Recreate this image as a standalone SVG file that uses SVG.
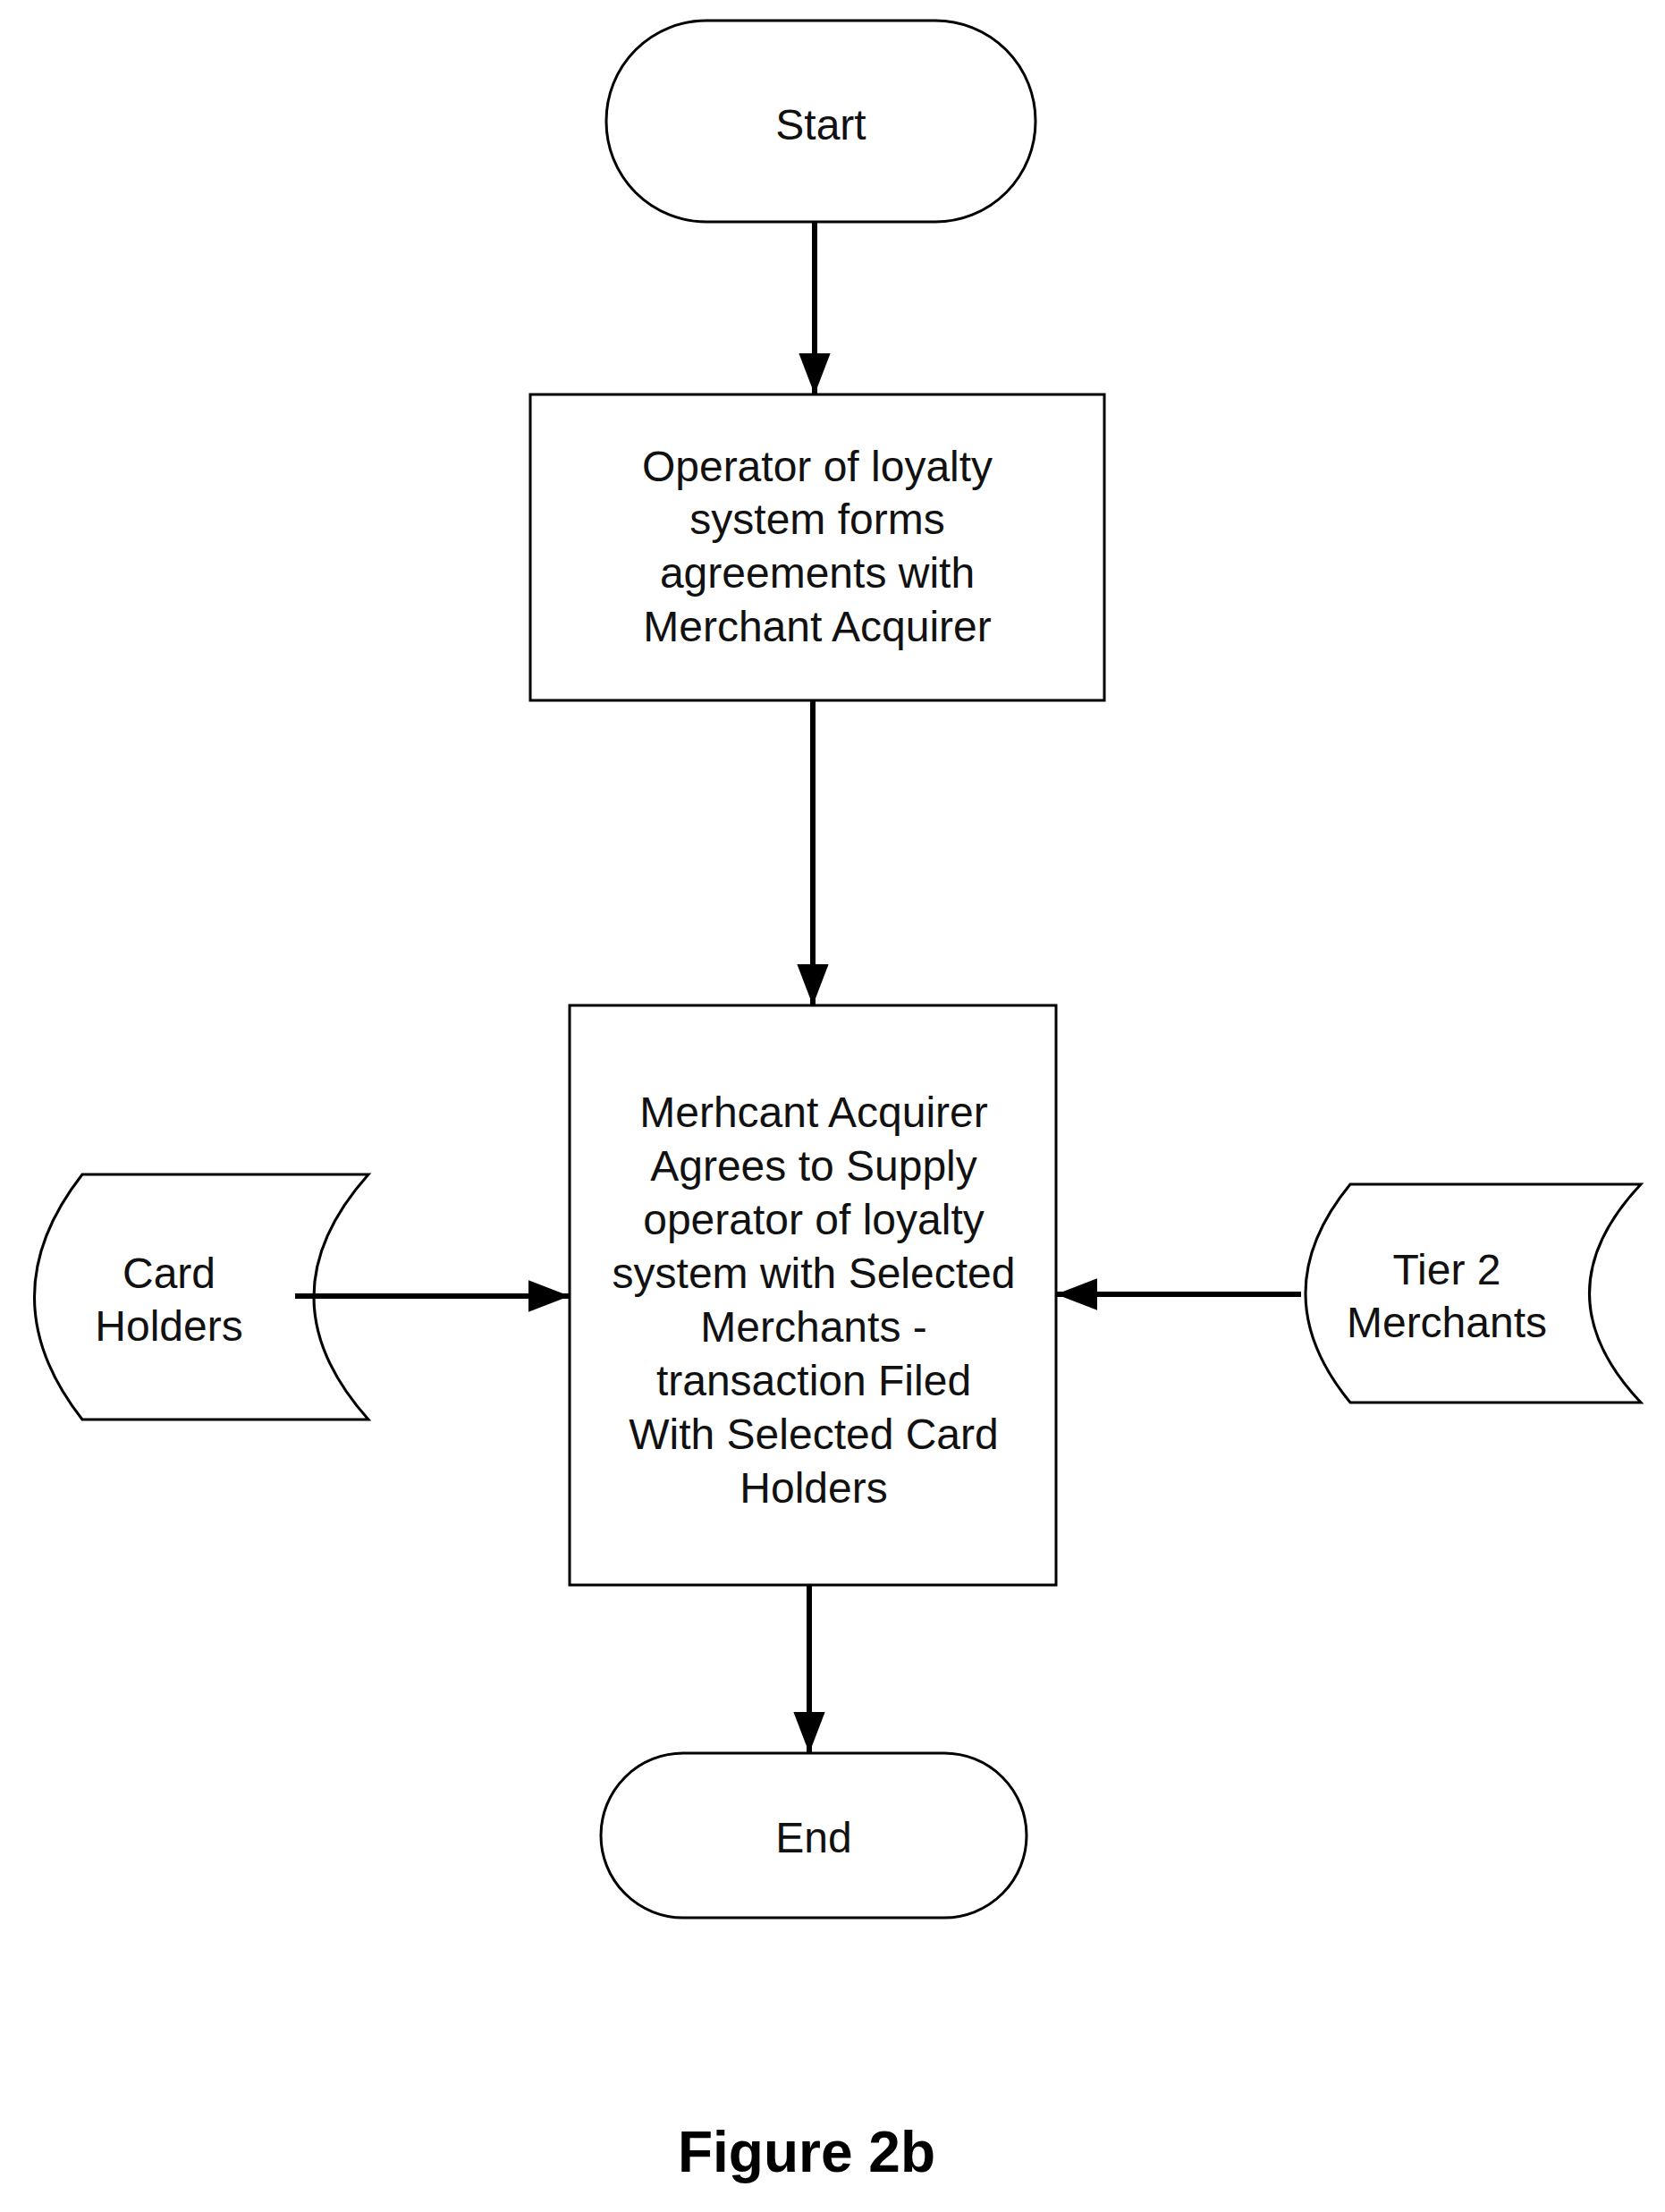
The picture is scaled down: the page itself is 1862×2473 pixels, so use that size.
<svg xmlns="http://www.w3.org/2000/svg" width="1862" height="2473" viewBox="0 0 1862 2473">
<style>
.s{fill:#fff;stroke:#000;stroke-width:3}
.t{font-family:"Liberation Sans",Arial,sans-serif;font-size:48px;text-anchor:middle;fill:#111}
.c{stroke:#000;stroke-width:6;fill:none}
</style>
<defs>
<marker id="a" markerUnits="userSpaceOnUse" markerWidth="46" markerHeight="62" refX="60" refY="23" viewBox="0 0 60 46" orient="auto">
<path d="M0 0L60 23L0 46Z" fill="#000"/>
</marker>
</defs>
<rect width="1862" height="2473" fill="#fff"/>
<g id="start"><rect class="s" x="678" y="23" width="480" height="225" rx="112"/><text class="t" x="918" y="156">Start</text></g>
<g id="op"><rect class="s" x="593" y="441" width="642" height="342"/>
<text class="t" x="914" y="538">Operator of loyalty</text><text class="t" x="914" y="597">system forms</text><text class="t" x="914" y="657">agreements with</text><text class="t" x="914" y="717">Merchant Acquirer</text></g>
<g id="ma"><rect class="s" x="637" y="1124" width="544" height="648"/>
<text class="t" x="910" y="1260">Merhcant Acquirer</text><text class="t" x="910" y="1320">Agrees to Supply</text><text class="t" x="910" y="1380">operator of loyalty</text><text class="t" x="910" y="1440">system with Selected</text><text class="t" x="910" y="1500">Merchants -</text><text class="t" x="910" y="1560">transaction Filed</text><text class="t" x="910" y="1620">With Selected Card</text><text class="t" x="910" y="1680">Holders</text></g>
<g id="card"><path class="s" d="M412 1313L92 1313Q-15 1450 92 1587L412 1587Q290 1450 412 1313Z"/><text class="t" x="189" y="1440">Card</text><text class="t" x="189" y="1499">Holders</text></g>
<g id="tier2"><path class="s" d="M1835 1324L1510 1324Q1410 1446 1510 1568L1835 1568Q1720 1446 1835 1324Z"/><text class="t" x="1618" y="1436">Tier 2</text><text class="t" x="1618" y="1495">Merchants</text></g>
<g id="end"><rect class="s" x="672" y="1960" width="476" height="184" rx="92"/><text class="t" x="910" y="2071">End</text></g>
<g id="connectors">
<line class="c" x1="911" y1="248" x2="911" y2="441" marker-end="url(#a)"/>
<line class="c" x1="909" y1="783" x2="909" y2="1124" marker-end="url(#a)"/>
<line class="c" x1="330" y1="1449" x2="637" y2="1449" marker-end="url(#a)"/>
<line class="c" x1="1455" y1="1447" x2="1181" y2="1447" marker-end="url(#a)"/>
<line class="c" x1="905" y1="1772" x2="905" y2="1960" marker-end="url(#a)"/>
</g>
<text x="902" y="2428" font-family="Liberation Sans,Arial,sans-serif" font-size="64" font-weight="bold" text-anchor="middle">Figure 2b</text>
</svg>
